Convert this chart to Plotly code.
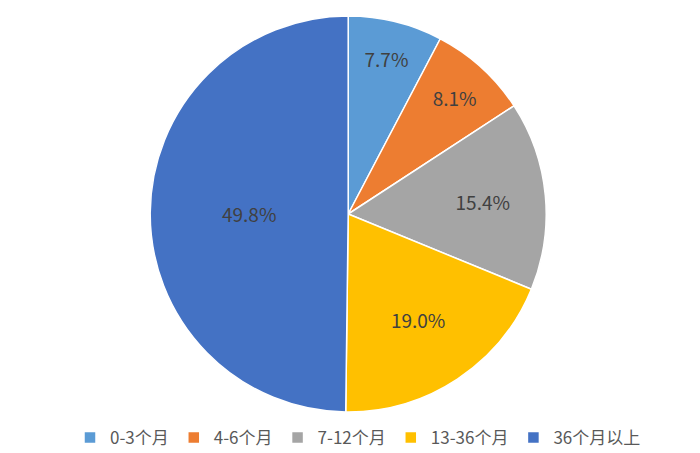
import plotly.graph_objects as go

labels = ["0-3个月", "4-6个月", "7-12个月", "13-36个月", "36个月以上"]
values = [7.7, 8.1, 15.4, 19.0, 49.8]
colors = ["#5B9BD5", "#ED7D31", "#A5A5A5", "#FFC000", "#4472C4"]

fig = go.Figure(go.Pie(
    labels=labels,
    values=values,
    sort=False,
    direction="clockwise",
    rotation=0,
    domain=dict(x=[0, 0.972], y=[0, 1]),
    marker=dict(colors=colors, line=dict(color="white", width=1.5)),
    texttemplate="%{value:.1f}%",
    textposition="inside",
    insidetextorientation="horizontal",
    textfont=dict(size=19, color="#404040"),
    hoverinfo="label+percent",
))

fig.update_layout(
    width=700, height=453,
    margin=dict(l=0, r=0, t=8, b=49),
    paper_bgcolor="white",
    font=dict(family="Noto Sans CJK SC, sans-serif", color="#595959"),
    legend=dict(orientation="h", x=0.5, xanchor="center", y=-0.02, yanchor="top",
                font=dict(size=17), itemwidth=30),
)

fig.write_html("out.html")
